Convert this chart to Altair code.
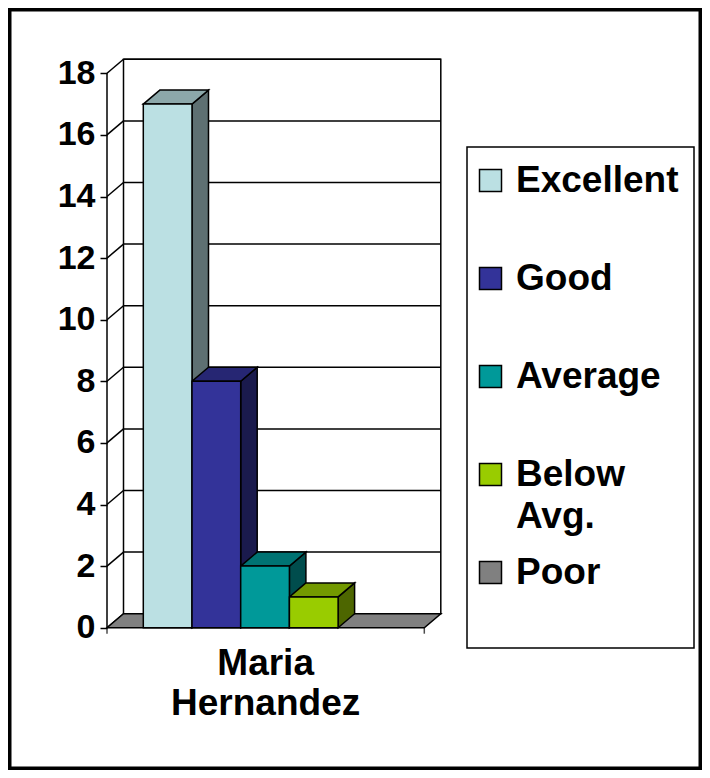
import altair as alt
import pandas as pd

# ---- data ----
ratings = ["Excellent", "Good", "Average", "Below Avg.", "Poor"]
counts = [17, 8, 2, 1, 0]
students = ["Maria Hernandez"]
y_ticks = [0, 2, 4, 6, 8, 10, 12, 14, 16, 18]

front_colors = ["#BBE0E3", "#333399", "#009999", "#99CC00", "#808080"]
top_colors = ["#8CA8AA", "#262673", "#007373", "#739900", "#606060"]
side_colors = ["#5E7072", "#1A1A4D", "#004D4D", "#4D6600", "#404040"]

# ---- layout constants (pixels / units) ----
W, H = 694, 762
PXU, PXV = 48.7, 30.8          # px per bar slot, px per count unit
AXIS_X, ZERO_Y = 99, 619.7     # front axis position inside the view
DX, DY = 16.5 / PXU, 14 / PXV  # 3-D depth in data units
BAR0 = 36.3 / PXU
FLOOR_R = 317.3 / PXU
Y_TOP = 18
LH = 42
FONT = "Liberation Sans"

xs = alt.Scale(domain=[-AXIS_X / PXU, (W - AXIS_X) / PXU], nice=False, zero=False)
ys = alt.Scale(domain=[-(H - ZERO_Y) / PXV, ZERO_Y / PXV], nice=False, zero=False)
yaxis = alt.Axis(values=y_ticks, offset=-AXIS_X, domain=False, grid=False,
                 tickSize=7, tickColor="black", tickWidth=1.5,
                 labelFont=FONT, labelFontSize=34, labelFontWeight="bold",
                 labelColor="black", labelPadding=5, title=None)


def X(f):
    return alt.X(f, type="quantitative", scale=xs, axis=None)


def Y(f):
    return alt.Y(f, type="quantitative", scale=ys, axis=yaxis)


# ---- tables built from the arrays ----
bars = pd.DataFrame({"rating": ratings, "count": counts})
bars["x0"] = [BAR0 + i for i in range(len(ratings))]
bars["x1"] = bars["x0"] + 1
bars["zero"] = 0
shown = bars[bars["count"] > 0]

top_rows, side_rows = [], []
for _, r in shown.iterrows():
    top_rows.append({"rating": r["rating"], "y": r["count"], "xa": r["x0"], "xb": r["x1"]})
    top_rows.append({"rating": r["rating"], "y": r["count"] + DY, "xa": r["x0"] + DX, "xb": r["x1"] + DX})
    side_rows.append({"rating": r["rating"], "x": r["x1"], "ya": 0, "yb": r["count"]})
    side_rows.append({"rating": r["rating"], "x": r["x1"] + DX, "ya": DY, "yb": r["count"] + DY})
tops = pd.DataFrame(top_rows)
sides = pd.DataFrame(side_rows)

grid = pd.DataFrame({"t": y_ticks})
grid["tb"] = grid["t"] + DY
grid["xf"] = 0.0
grid["xb"] = DX
grid["xr"] = FLOOR_R + DX

wall = pd.DataFrame({"x": [DX], "x2": [FLOOR_R + DX], "y": [DY], "y2": [Y_TOP + DY]})
floor = pd.DataFrame({"y": [0, DY], "xa": [0, DX], "xb": [FLOOR_R, FLOOR_R + DX]})
axis_line = pd.DataFrame({"x": [0.0], "y": [0], "y2": [Y_TOP]})
end_ticks = pd.DataFrame({"x": [0.0, FLOOR_R], "y": [0, 0]})
cat = pd.DataFrame({"student": students, "x": [FLOOR_R / 2], "y": [0]})

# ---- layers ----
wall_l = alt.Chart(wall).mark_rect(fill="white", stroke="black", strokeWidth=1.5).encode(
    x=X("x"), x2="x2", y=Y("y"), y2="y2")
grid_l = alt.Chart(grid).mark_rule(color="black", strokeWidth=1.5).encode(
    x=X("xb"), x2="xr", y=Y("tb"))
diag_l = alt.Chart(grid).mark_rule(color="black", strokeWidth=1.5).encode(
    x=X("xf"), x2="xb", y=Y("t"), y2="tb")
floor_l = alt.Chart(floor).mark_area(orient="horizontal", fill="#808080", stroke="black",
                                     strokeWidth=1.5).encode(y=Y("y"), x=X("xa"), x2="xb")

side_l = alt.Chart(sides).mark_area(orient="vertical", stroke="black", strokeWidth=1.5,
                                    opacity=1).encode(
    x=X("x"), y=Y("ya"), y2="yb",
    color=alt.Color("rating:N", scale=alt.Scale(domain=ratings, range=side_colors), legend=None))
top_l = alt.Chart(tops).mark_area(orient="horizontal", stroke="black", strokeWidth=1.5,
                                  opacity=1).encode(
    y=Y("y"), x=X("xa"), x2="xb",
    color=alt.Color("rating:N", scale=alt.Scale(domain=ratings, range=top_colors), legend=None))

legend = alt.Legend(
    title=None, orient="none", legendX=459, legendY=139, direction="vertical",
    symbolType="square", symbolSize=484, symbolStrokeColor="black", symbolStrokeWidth=1.5,
    symbolOpacity=1, symbolOffset=-10,
    labelFont=FONT, labelFontSize=37, labelFontWeight="bold", labelColor="black",
    labelLimit=400, labelBaseline="middle", labelOffset=7,
    labelExpr="datum.label == 'Below Avg.' ? ['Below', 'Avg.'] : [datum.label, '']",
    rowPadding=18, gridAlign="all")

front_l = alt.Chart(shown).mark_rect(stroke="black", strokeWidth=1.5, opacity=1).encode(
    x=X("x0"), x2="x1", y=Y("zero"), y2="count",
    color=alt.Color("rating:N", scale=alt.Scale(domain=ratings, range=front_colors), legend=legend))

axis_l = alt.Chart(axis_line).mark_rule(color="black", strokeWidth=1.5).encode(
    x=X("x"), y=Y("y"), y2="y2")
ticks_l = alt.Chart(end_ticks).mark_tick(orient="vertical", size=6, yOffset=3, thickness=1.5,
                                         color="black").encode(x=X("x"), y=Y("y"))
cat_l = alt.Chart(cat).mark_text(lineBreak=" ", font=FONT, fontSize=37, fontWeight="bold",
                                 baseline="middle", align="center", dy=36, lineHeight=40,
                                 color="black").encode(x=X("x"), y=Y("y"), text="student:N")

chart = alt.layer(wall_l, grid_l, diag_l, floor_l, side_l, top_l, front_l,
                  axis_l, ticks_l, cat_l).resolve_scale(color="independent").properties(
    width=W, height=H, padding=0, background="white"
).configure(
    style={"guide-label": {"lineHeight": LH}}
).configure_view(stroke="black", strokeWidth=7).configure_legend(
    strokeColor="black", strokeWidth=1.5, fillColor="white", padding=15
)

chart.save("out.html", embed_options={"renderer": "svg", "actions": False})
